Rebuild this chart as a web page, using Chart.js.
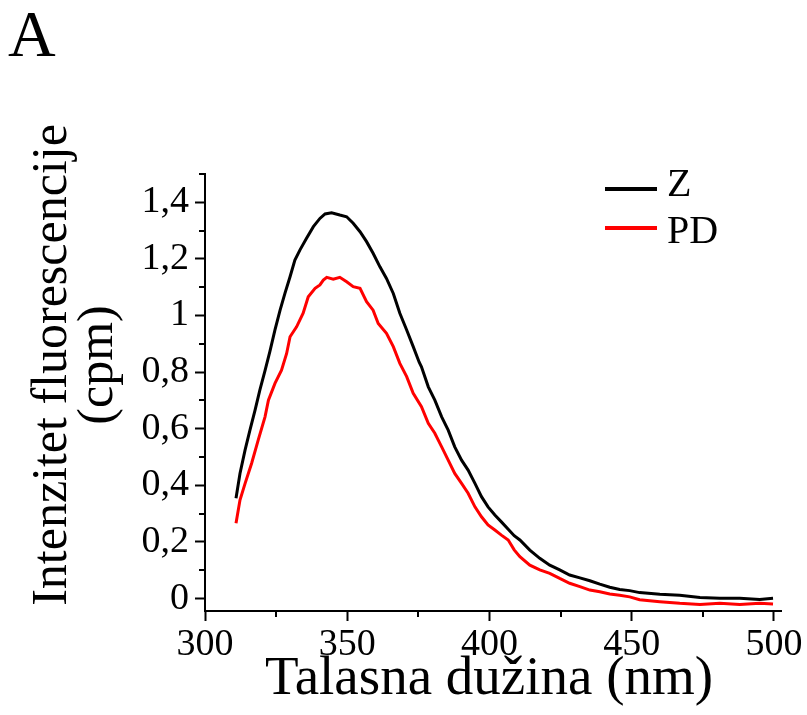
<!DOCTYPE html>
<html><head><meta charset="utf-8">
<script src="https://cdn.jsdelivr.net/npm/chart.js@4"></script>
<style>html,body{margin:0;padding:0;background:#fff;} #wrap{position:relative;width:807px;height:715px;}</style>
</head><body><div id="wrap"><canvas id="c" width="807" height="715"></canvas></div>
<script>
const panelLabel = 'A';
const xTitle = 'Talasna dužina (nm)';
const yTitleLines = ['Intenzitet fluorescencije', '(cpm)'];
const seriesNames = ['Z', 'PD'];
const seriesColors = ['#000000', '#ff0000'];
const xTicks = [300, 350, 400, 450, 500];
const xMinorTicks = [325, 375, 425, 475];
const yTicks = [0, 0.2, 0.4, 0.6, 0.8, 1.0, 1.2, 1.4];
const yTickLabels = ['0', '0,2', '0,4', '0,6', '0,8', '1', '1,2', '1,4'];
const yMinorTicks = [0.1, 0.3, 0.5, 0.7, 0.9, 1.1, 1.3, 1.5];

const zWavelength = [310.9, 312.3, 314.1, 315.8, 317.6, 319.3, 321.1, 322.8, 324.6, 326.4, 328.1, 329.9, 331.6, 333.4, 335.7, 338.1, 340.4, 342.2, 344.5, 347.4, 349.8, 352.1, 354.5, 356.8, 359.1, 361.5, 363.8, 366.2, 368.5, 370.9, 373.2, 375.3, 376.1, 378.5, 380.8, 383.2, 385.5, 387.8, 390.2, 392.5, 394.9, 397.2, 399.5, 401.9, 404.2, 406.6, 408.7, 410.7, 414.2, 417.7, 421.2, 424.7, 428.2, 431.8, 435.3, 438.8, 442.3, 445.8, 449.3, 452.8, 459.9, 466.9, 474.0, 481.0, 488.0, 495.0, 499.7];
const zIntensity = [0.354, 0.442, 0.525, 0.595, 0.666, 0.737, 0.805, 0.872, 0.949, 1.019, 1.078, 1.137, 1.196, 1.232, 1.273, 1.314, 1.343, 1.359, 1.363, 1.355, 1.349, 1.326, 1.296, 1.261, 1.220, 1.172, 1.131, 1.078, 1.008, 0.949, 0.890, 0.835, 0.819, 0.748, 0.701, 0.642, 0.595, 0.536, 0.489, 0.454, 0.407, 0.360, 0.324, 0.295, 0.271, 0.245, 0.222, 0.207, 0.171, 0.142, 0.118, 0.101, 0.083, 0.073, 0.063, 0.051, 0.040, 0.032, 0.028, 0.021, 0.015, 0.012, 0.004, 0.001, 0.001, -0.003, 0.001];

const pdWavelength = [310.9, 312.3, 314.1, 316.4, 318.7, 321.1, 322.3, 324.6, 326.9, 328.7, 329.9, 332.2, 334.5, 336.3, 338.7, 340.4, 341.6, 342.8, 345.1, 347.4, 349.8, 352.1, 354.5, 356.8, 359.1, 360.9, 363.8, 366.2, 368.5, 370.9, 373.2, 376.1, 378.5, 380.8, 383.2, 385.5, 387.8, 390.2, 392.5, 394.9, 397.2, 399.5, 401.9, 404.2, 406.6, 408.7, 410.7, 414.2, 417.7, 421.2, 424.7, 428.2, 431.8, 435.3, 438.8, 442.3, 445.8, 449.3, 452.8, 459.9, 466.9, 474.0, 481.0, 488.0, 495.0, 499.7];
const pdIntensity = [0.266, 0.348, 0.407, 0.478, 0.560, 0.642, 0.701, 0.760, 0.807, 0.866, 0.925, 0.960, 1.008, 1.066, 1.096, 1.108, 1.125, 1.135, 1.128, 1.135, 1.119, 1.102, 1.096, 1.049, 1.019, 0.972, 0.937, 0.890, 0.831, 0.784, 0.725, 0.678, 0.619, 0.584, 0.536, 0.489, 0.442, 0.407, 0.372, 0.324, 0.289, 0.260, 0.242, 0.224, 0.207, 0.172, 0.148, 0.118, 0.101, 0.089, 0.071, 0.054, 0.042, 0.030, 0.024, 0.016, 0.012, 0.006, -0.004, -0.011, -0.017, -0.021, -0.017, -0.021, -0.017, -0.019];

const FONT = '"Liberation Serif", "Times New Roman", serif';

const toPoints = (xs, ys) => xs.map((x, i) => ({ x: x, y: ys[i] }));

const decorPlugin = {
  id: 'decor',
  afterDraw(chart) {
    const ctx = chart.ctx;
    const xs = chart.scales.x, ys = chart.scales.y;
    const area = chart.chartArea;
    ctx.save();
    // minor ticks
    ctx.strokeStyle = '#000';
    ctx.lineWidth = 2;
    yMinorTicks.forEach(v => {
      const py = Math.round(ys.getPixelForValue(v));
      ctx.beginPath(); ctx.moveTo(area.left, py); ctx.lineTo(area.left - 6, py); ctx.stroke();
    });
    xMinorTicks.forEach(v => {
      const px = Math.round(xs.getPixelForValue(v));
      ctx.beginPath(); ctx.moveTo(px, area.bottom); ctx.lineTo(px, area.bottom + 6); ctx.stroke();
    });
    // panel label
    ctx.fillStyle = '#000';
    ctx.textBaseline = 'alphabetic';
    ctx.textAlign = 'left';
    ctx.font = '66px ' + FONT;
    ctx.fillText(panelLabel, 8, 56);
    // x title
    ctx.font = '55px ' + FONT;
    ctx.textAlign = 'center';
    ctx.fillText(xTitle, 489, 694);
    // y title
    ctx.save();
    ctx.translate(0, 365);
    ctx.rotate(-Math.PI / 2);
    ctx.font = '50px ' + FONT;
    ctx.textAlign = 'center';
    ctx.fillText(yTitleLines[0], 0, 66);
    ctx.fillText(yTitleLines[1], 0, 112);
    ctx.restore();
    // legend
    const legendY = [189, 228];
    const legendBase = [196, 243];
    chart.data.datasets.forEach((ds, i) => {
      ctx.strokeStyle = ds.borderColor;
      ctx.lineWidth = 4;
      ctx.beginPath(); ctx.moveTo(605, legendY[i]); ctx.lineTo(657, legendY[i]); ctx.stroke();
      ctx.fillStyle = '#000';
      ctx.font = '40px ' + FONT;
      ctx.textAlign = 'left';
      ctx.fillText(ds.label, 667, legendBase[i]);
    });
    ctx.restore();
  }
};

new Chart(document.getElementById('c'), {
  type: 'line',
  data: {
    datasets: [
      { label: seriesNames[0], data: toPoints(zWavelength, zIntensity), borderColor: seriesColors[0], borderWidth: 3, pointRadius: 0, tension: 0, fill: false },
      { label: seriesNames[1], data: toPoints(pdWavelength, pdIntensity), borderColor: seriesColors[1], borderWidth: 3, pointRadius: 0, tension: 0, fill: false }
    ]
  },
  options: {
    responsive: false,
    devicePixelRatio: 1,
    animation: false,
    layout: { padding: { top: 174, right: 26, left: 0, bottom: 0 } },
    plugins: { legend: { display: false }, tooltip: { enabled: false }, title: { display: false } },
    scales: {
      x: {
        type: 'linear', min: 300, max: 502.5,
        afterBuildTicks: s => { s.ticks = xTicks.map(v => ({ value: v })); },
        afterFit: s => { s.height = 104; s.paddingLeft = 0; s.paddingRight = 0; },
        ticks: { font: { family: FONT, size: 38 }, color: '#000', padding: 1, maxRotation: 0, autoSkip: false,
          callback: v => String(v) },
        grid: { drawOnChartArea: false, drawTicks: true, tickLength: 10, tickWidth: 2, tickColor: '#000' },
        border: { display: true, color: '#000', width: 2 }
      },
      y: {
        type: 'linear', min: -0.044, max: 1.5,
        afterBuildTicks: s => { s.ticks = yTicks.map(v => ({ value: v })); },
        afterFit: s => { s.width = 205; s.paddingTop = 0; s.paddingBottom = 0; },
        ticks: { font: { family: FONT, size: 38 }, color: '#000', padding: 6, autoSkip: false,
          callback: (v, i) => yTickLabels[i] },
        grid: { drawOnChartArea: false, drawTicks: true, tickLength: 10, tickWidth: 2, tickColor: '#000' },
        border: { display: true, color: '#000', width: 2 }
      }
    }
  },
  plugins: [decorPlugin]
});
</script></body></html>
